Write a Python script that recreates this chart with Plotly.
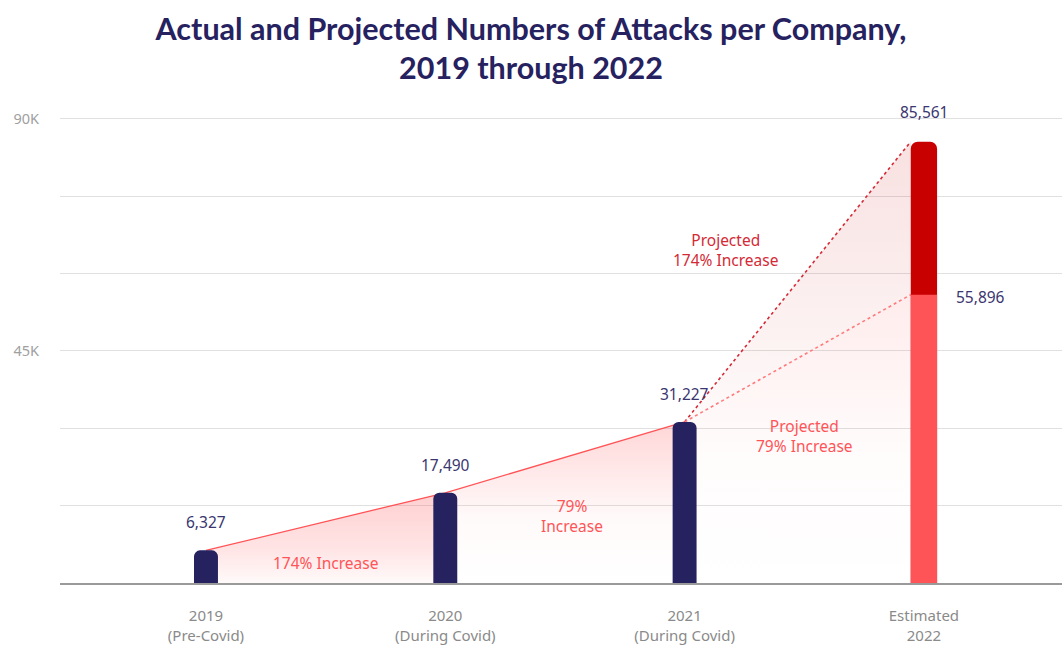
import plotly.graph_objects as go

# ---------------- data ----------------
categories = ["2019<br>(Pre-Covid)", "2020<br>(During Covid)", "2021<br>(During Covid)", "Estimated<br>2022"]
actual_values = [6327, 17490, 31227]          # 2019-2021 actual
projected_high = 85561                        # 2022, 174% increase
projected_low = 55896                         # 2022, 79% increase
growth_labels = ["174% Increase", "79%<br>Increase"]
projected_labels = ["Projected<br>174% Increase", "Projected<br>79% Increase"]
y_tickvals = [0, 15000, 30000, 45000, 60000, 75000, 90000]
y_ticktext = ["", "", "", "45K", "", "", "90K"]

NAVY = "#26215f"
DARK_RED = "#c80000"
LIGHT_RED = "#ff5457"
BAR_W = 0.1
BAR_W22 = 0.11
Y_RANGE = [0, 95000]

x_idx = list(range(len(categories)))
fig = go.Figure()

# ------------- gradient fills -------------
fig.add_trace(go.Scatter(
    x=[x_idx[0], x_idx[1], x_idx[1], x_idx[0]],
    y=[actual_values[0], actual_values[1], 0, 0],
    fill="toself", mode="none", hoverinfo="skip", showlegend=False,
    fillgradient=dict(type="vertical",
                      colorscale=[[0, "rgba(255,84,87,0.03)"], [0.35, "rgba(255,84,87,0.15)"], [1, "rgba(255,84,87,0.28)"]]),
))
fig.add_trace(go.Scatter(
    x=[x_idx[1], x_idx[2], x_idx[2], x_idx[1]],
    y=[actual_values[1], actual_values[2], 0, 0],
    fill="toself", mode="none", hoverinfo="skip", showlegend=False,
    fillgradient=dict(type="vertical",
                      colorscale=[[0, "rgba(255,84,87,0.0)"], [0.4, "rgba(255,84,87,0.03)"], [1, "rgba(255,84,87,0.24)"]]),
))
x_end = x_idx[3] - BAR_W22 / 2
fig.add_trace(go.Scatter(
    x=[x_idx[2], x_end, x_end, x_idx[2]],
    y=[actual_values[2], projected_low, 0, 0],
    fill="toself", mode="none", hoverinfo="skip", showlegend=False,
    fillgradient=dict(type="vertical",
                      colorscale=[[0, "rgba(255,84,87,0.0)"], [0.45, "rgba(255,84,87,0.02)"], [1, "rgba(255,84,87,0.11)"]]),
))
fig.add_trace(go.Scatter(
    x=[x_idx[2], x_end, x_end, x_idx[2]],
    y=[actual_values[2], projected_high, projected_low, actual_values[2]],
    fill="toself", mode="none", hoverinfo="skip", showlegend=False,
    fillgradient=dict(type="vertical",
                      colorscale=[[0, "rgba(200,0,0,0.02)"], [1, "rgba(200,0,0,0.12)"]]),
))

# ------------- lines -------------
fig.add_trace(go.Scatter(
    x=x_idx[:3], y=actual_values, mode="lines",
    line=dict(color=LIGHT_RED, width=1.3), hoverinfo="skip", showlegend=False,
))
fig.add_trace(go.Scatter(
    x=[x_idx[2], x_end], y=[actual_values[2], projected_high], mode="lines",
    line=dict(color="#d42a36", width=1.6, dash="dot"), hoverinfo="skip", showlegend=False,
))
fig.add_trace(go.Scatter(
    x=[x_idx[2], x_end], y=[actual_values[2], projected_low], mode="lines",
    line=dict(color="#ff7a7c", width=1.6, dash="dot"), hoverinfo="skip", showlegend=False,
))

# ------------- bars (on overlaying axis so they sit above the fills) -------------
fig.add_trace(go.Bar(
    x=x_idx[:3], y=actual_values, width=BAR_W, yaxis="y2",
    marker=dict(color=NAVY, cornerradius=6, line=dict(width=0)),
    hoverinfo="skip", showlegend=False,
))
fig.add_trace(go.Bar(
    x=[x_idx[3]], y=[projected_high], width=BAR_W22, yaxis="y2",
    marker=dict(color=DARK_RED, cornerradius=7, line=dict(width=0)),
    hoverinfo="skip", showlegend=False,
))
fig.add_trace(go.Bar(
    x=[x_idx[3]], y=[projected_low], width=BAR_W22, yaxis="y2",
    marker=dict(color=LIGHT_RED, cornerradius=4, line=dict(width=0)),
    hoverinfo="skip", showlegend=False,
))

# ------------- value labels -------------
label_font = dict(family="Noto Sans", size=15.5, color="#3a3670")
for xi, v in zip(x_idx[:3], actual_values):
    fig.add_annotation(x=xi, y=v, text=f"{v:,}", showarrow=False, yshift=28, font=label_font)
fig.add_annotation(x=x_idx[3], y=projected_high, text=f"{projected_high:,}", showarrow=False, yshift=30, font=label_font)
fig.add_annotation(x=x_idx[3], y=projected_low, text=f"{projected_low:,}", showarrow=False,
                   xanchor="left", xshift=30, yshift=-2, font=label_font)

# ------------- growth annotations -------------
ann_font_light = dict(family="Noto Sans", size=15.5, color=LIGHT_RED)
ann_font_dark = dict(family="Noto Sans", size=15.5, color="#d42a36")
fig.add_annotation(x=0.5, y=3800, text=growth_labels[0], showarrow=False, font=ann_font_light)
fig.add_annotation(x=1.53, y=13000, text=growth_labels[1], showarrow=False, font=ann_font_light)
fig.add_annotation(x=2.17, y=64500, text=projected_labels[0], showarrow=False, font=ann_font_dark)
fig.add_annotation(x=2.5, y=28500, text=projected_labels[1], showarrow=False, font=ann_font_light)

# ------------- layout -------------
fig.update_layout(
    width=1062, height=648,
    margin=dict(l=60, r=0, t=93, b=65),
    paper_bgcolor="white", plot_bgcolor="white",
    barmode="overlay",
    title=dict(
        text="Actual and Projected Numbers of Attacks per Company,<br>2019 through 2022",
        x=0.5, xanchor="center", y=0.939, yanchor="top",
        font=dict(family="Lato", size=30.5, color=NAVY, weight="bold"),
    ),
    xaxis=dict(
        range=[-0.61, 3.577], tickvals=x_idx, ticktext=categories,
        showgrid=False, zeroline=False, showline=True, linecolor="#9a9a9a", linewidth=2,
        ticks="", ticklabelstandoff=18,
        tickfont=dict(family="Noto Sans", size=15, color="#8a8a8a"),
    ),
    yaxis=dict(
        range=Y_RANGE, tickvals=y_tickvals, ticktext=y_ticktext,
        showgrid=True, gridcolor="#e0e0e0", gridwidth=1, zeroline=False,
        ticks="", ticklabelstandoff=20,
        tickfont=dict(family="Noto Sans", size=14.5, color="#a0a0a0"),
    ),
    yaxis2=dict(
        range=Y_RANGE, overlaying="y", visible=False, showgrid=False, zeroline=False,
    ),
)

fig.write_html("out.html")
